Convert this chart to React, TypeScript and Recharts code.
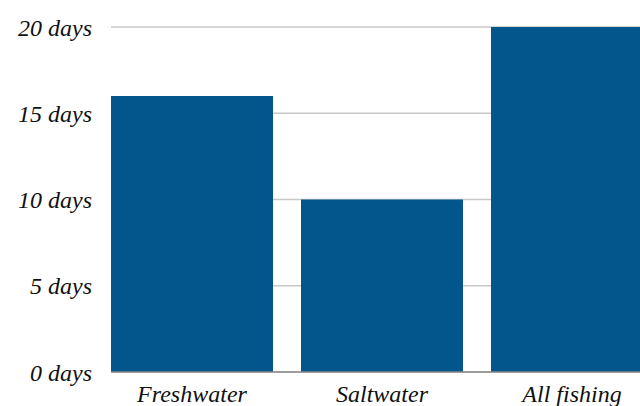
import React from 'react';
import { BarChart, Bar, XAxis, YAxis, CartesianGrid } from 'recharts';

// Days of fishing per angler, by type
const categories = ['Freshwater', 'Saltwater', 'All fishing'];
const days = [16, 10, 20];
const yTicks = [0, 5, 10, 15, 20];

const data = categories.map((name, i) => ({ name, days: days[i] }));

const tickFont = {
  fontFamily: '"Liberation Serif", serif',
  fontStyle: 'italic',
  fontSize: 24,
  fill: '#111',
};

export default function App() {
  return (
    <div
      style={{
        position: 'absolute',
        left: 0,
        top: 0,
        width: 640,
        height: 406,
        overflow: 'hidden',
        background: '#fff',
      }}
    >
      <BarChart
        width={653}
        height={406}
        data={data}
        margin={{ top: 27, right: 0, bottom: 0, left: 0 }}
        barCategoryGap={14}
      >
        <CartesianGrid vertical={false} stroke="#c8c8c8" strokeWidth={1.5} />
        <XAxis
          dataKey="name"
          height={34}
          padding={{ left: -14, right: -14 }}
          tickLine={false}
          tickSize={0}
          tickMargin={13}
          axisLine={{ stroke: '#8a8a8a', strokeWidth: 1.5 }}
          tick={tickFont}
        />
        <YAxis
          width={111}
          domain={[0, 20]}
          ticks={yTicks}
          tickFormatter={(v: number) => `${v} days`}
          tickLine={false}
          axisLine={false}
          tickSize={0}
          tickMargin={19}
          tick={tickFont}
        />
        <Bar dataKey="days" fill="#03568b" isAnimationActive={false} />
      </BarChart>
    </div>
  );
}
